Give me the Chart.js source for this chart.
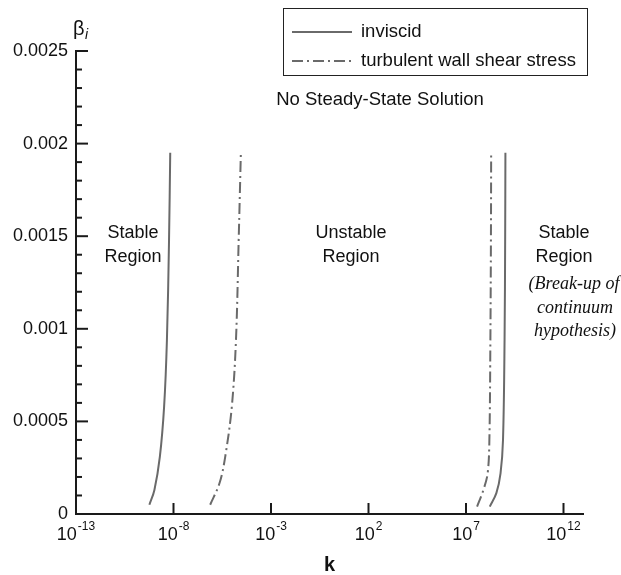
<!DOCTYPE html>
<html><head><meta charset="utf-8">
<script src="https://cdn.jsdelivr.net/npm/chart.js@4.4.1/dist/chart.umd.min.js"></script>
<style>html,body{margin:0;padding:0;background:#fff;} canvas{display:block;}</style>
</head><body>
<canvas id="c" width="621" height="575"></canvas>
<script>
// ---- data ----
const seriesNames = ['inviscid', 'turbulent wall shear stress'];
const xTickValues = [1e-13, 1e-8, 1e-3, 1e2, 1e7, 1e12];
const xTickBase = '10';
const xTickExponents = ['-13', '-8', '-3', '2', '7', '12'];
const yTickValues = [0, 0.0005, 0.001, 0.0015, 0.002, 0.0025];
const yTickLabels = ['0', '0.0005', '0.001', '0.0015', '0.002', '0.0025'];
const yMinorValues = [0.0001,0.0002,0.0003,0.0004,0.0006,0.0007,0.0008,0.0009,0.0011,0.0012,0.0013,0.0014,0.0016,0.0017,0.0018,0.0019,0.0021,0.0022,0.0023,0.0024];

// inviscid, small-k branch
const inviscidLowK    = [5.8e-10, 1.05e-9, 2.0e-9, 3.3e-9, 4.6e-9, 5.9e-9, 6.8e-9];
const inviscidLowBeta = [0.00005, 0.00013, 0.00031, 0.00058, 0.00094, 0.00148, 0.00195];
// inviscid, large-k branch
const inviscidHighK    = [1.66e8, 3.6e8, 5.9e8, 7.9e8, 9.5e8, 1.02e9, 1.05e9];
const inviscidHighBeta = [0.00004, 0.000113, 0.00022, 0.0004, 0.00094, 0.0015, 0.00195];
// turbulent wall shear stress, small-k branch
const turbLowK    = [7.6e-7, 2.3e-6, 4.5e-6, 9.8e-6, 1.6e-5, 2.2e-5, 2.85e-5];
const turbLowBeta = [0.00005, 0.000167, 0.00031, 0.00058, 0.00094, 0.00148, 0.00195];
// turbulent wall shear stress, large-k branch
const turbHighK    = [3.7e7, 7.8e7, 1.29e8, 1.58e8, 1.78e8, 1.9e8, 1.95e8];
const turbHighBeta = [0.00004, 0.00013, 0.00022, 0.0004, 0.00094, 0.0015, 0.00195];

// ---- styling ----
const SANS = '"Liberation Sans", Arial, Helvetica, sans-serif';
const SERIF = '"Liberation Serif", "Times New Roman", serif';
const INK = '#111111';
const LINE = '#6a6a6a';
const DASHDOT = [11, 4, 2, 4];

const pts = (xs, ys) => xs.map((x, i) => ({x: x, y: ys[i]}));
const solid = (xs, ys) => ({label: seriesNames[0], data: pts(xs, ys), borderColor: LINE, borderWidth: 2, pointRadius: 0, tension: 0.35, fill: false});
const dashed = (xs, ys) => ({label: seriesNames[1], data: pts(xs, ys), borderColor: LINE, borderWidth: 2, borderDash: DASHDOT, pointRadius: 0, tension: 0.35, fill: false});

const decor = {
  id: 'decor',
  afterDraw(chart) {
    const {ctx, chartArea: a, scales: {x, y}} = chart;
    ctx.save();
    // inward tick marks
    ctx.strokeStyle = '#1a1a1a'; ctx.lineWidth = 2; ctx.setLineDash([]);
    yTickValues.forEach(v => { const p = y.getPixelForValue(v); ctx.beginPath(); ctx.moveTo(a.left, p); ctx.lineTo(a.left + 12, p); ctx.stroke(); });
    yMinorValues.forEach(v => { const p = y.getPixelForValue(v); ctx.beginPath(); ctx.moveTo(a.left, p); ctx.lineTo(a.left + 6, p); ctx.stroke(); });
    xTickValues.slice(1).forEach(v => { const p = x.getPixelForValue(v); ctx.beginPath(); ctx.moveTo(p, a.bottom); ctx.lineTo(p, a.bottom - 11); ctx.stroke(); });

    // x tick labels: 10 with superscript exponent
    ctx.fillStyle = INK; ctx.textBaseline = 'middle'; ctx.textAlign = 'left';
    xTickValues.forEach((v, i) => {
      const p = x.getPixelForValue(v);
      ctx.font = '18px ' + SANS; const wb = ctx.measureText(xTickBase).width;
      ctx.font = '12px ' + SANS; const we = ctx.measureText(xTickExponents[i]).width;
      const s = p - (wb + we + 1) / 2;
      ctx.font = '18px ' + SANS; ctx.fillText(xTickBase, s, a.bottom + 21);
      ctx.font = '12px ' + SANS; ctx.fillText(xTickExponents[i], s + wb + 1, a.bottom + 13);
    });

    // y axis title beta_i
    ctx.font = '20px ' + SANS; ctx.fillText('\u03B2', 73, 29);
    ctx.font = 'italic 14px ' + SANS; ctx.fillText('i', 85, 35);

    // legend
    ctx.lineWidth = 1; ctx.strokeStyle = '#222';
    ctx.strokeRect(283.5, 8.5, 304, 67);
    ctx.strokeStyle = LINE; ctx.lineWidth = 2;
    ctx.beginPath(); ctx.moveTo(292, 32); ctx.lineTo(352, 32); ctx.stroke();
    ctx.setLineDash(DASHDOT);
    ctx.beginPath(); ctx.moveTo(292, 61); ctx.lineTo(352, 61); ctx.stroke();
    ctx.setLineDash([]);
    ctx.fillStyle = INK; ctx.font = '18.5px ' + SANS; ctx.textAlign = 'left';
    ctx.fillText(seriesNames[0], 361, 32);
    ctx.fillText(seriesNames[1], 361, 61);

    // region annotations
    ctx.textAlign = 'center';
    ctx.font = '18.5px ' + SANS;
    ctx.fillText('No Steady-State Solution', 380, 100);
    ctx.font = '18px ' + SANS;
    ctx.fillText('Stable', 133, 233); ctx.fillText('Region', 133, 257);
    ctx.fillText('Unstable', 351, 233); ctx.fillText('Region', 351, 257);
    ctx.fillText('Stable', 564, 233); ctx.fillText('Region', 564, 257);
    ctx.font = 'italic 18px ' + SERIF;
    ctx.fillText('(Break-up of', 574, 284);
    ctx.fillText('continuum', 575, 308);
    ctx.fillText('hypothesis)', 575, 331);
    ctx.restore();
  }
};

new Chart(document.getElementById('c'), {
  type: 'line',
  data: {
    datasets: [
      solid(inviscidLowK, inviscidLowBeta),
      solid(inviscidHighK, inviscidHighBeta),
      dashed(turbLowK, turbLowBeta),
      dashed(turbHighK, turbHighBeta)
    ]
  },
  options: {
    responsive: false,
    animation: false,
    events: [],
    layout: {padding: {top: 51, right: 38, bottom: 0, left: 0}},
    plugins: {legend: {display: false}, tooltip: {enabled: false}},
    scales: {
      x: {
        type: 'logarithmic', min: 1e-13, max: 1e13,
        afterBuildTicks: s => { s.ticks = xTickValues.map(v => ({value: v})); },
        afterFit: s => { s.height = 61; },
        grid: {display: false, drawTicks: false},
        border: {display: true, color: '#1a1a1a', width: 2},
        ticks: {display: false},
        title: {display: true, text: 'k', color: INK, font: {family: SANS, size: 20, weight: 'bold', lineHeight: 1}, padding: {top: 4, bottom: 0}}
      },
      y: {
        type: 'linear', min: 0, max: 0.0025,
        afterBuildTicks: s => { s.ticks = yTickValues.map(v => ({value: v})); },
        afterFit: s => { s.width = 76; },
        grid: {display: false, drawTicks: false},
        border: {display: true, color: '#1a1a1a', width: 2},
        ticks: {
          color: INK, font: {family: SANS, size: 18}, padding: 8,
          callback: (v) => { const i = yTickValues.indexOf(v); return i >= 0 ? yTickLabels[i] : ''; }
        }
      }
    }
  },
  plugins: [decor]
});
</script>
</body></html>
